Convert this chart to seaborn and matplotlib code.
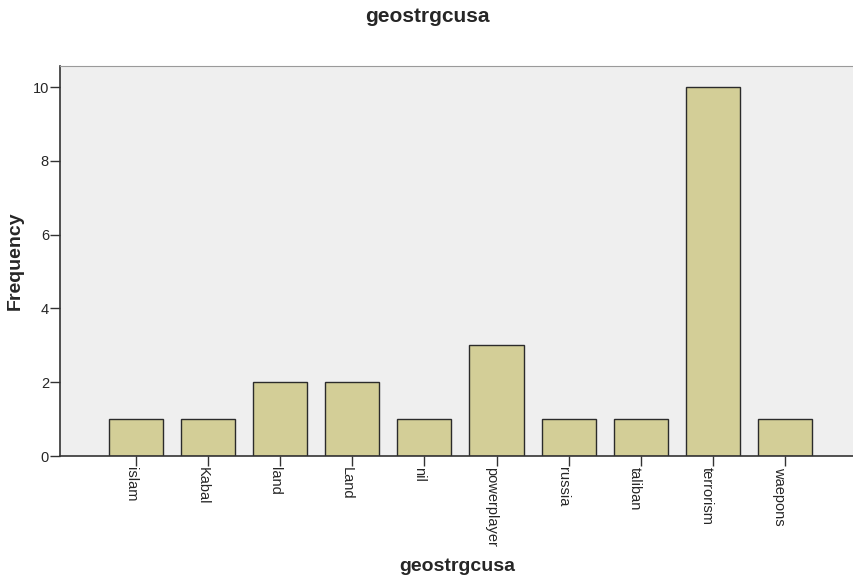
import pandas as pd
import seaborn as sns
import matplotlib.pyplot as plt

# ---------- Data ----------
categories = ["islam", "Kabal", "land", "Land", "nil", "powerplayer",
              "russia", "taliban", "terrorism", "waepons"]
frequency = [1, 1, 2, 2, 1, 3, 1, 1, 10, 1]

df = pd.DataFrame({"geostrgcusa": categories, "Frequency": frequency})

sns.set_style("white")
plt.rcParams['font.family'] = ['Arial', 'Liberation Sans', 'DejaVu Sans']

fig = plt.figure(figsize=(8.54, 5.79), dpi=100)
ax = fig.add_axes([0.0703, 0.2124, 0.9297, 0.6736])
ax.set_facecolor("#EFEFEF")

sns.barplot(data=df, x="geostrgcusa", y="Frequency", order=categories,
            color="#D3CE97", width=0.75, edgecolor="#2b2b2b", linewidth=1.0,
            saturation=1, ax=ax)

ax.set_xlim(-1.056, 9.96)
ax.set_ylim(0, 10.57)
ax.set_yticks([0, 2, 4, 6, 8, 10])

ax.spines["top"].set_color("#9a9a9a")
ax.spines["right"].set_visible(False)
ax.spines["left"].set_color("#333333")
ax.spines["bottom"].set_color("#333333")
ax.spines["left"].set_linewidth(1.2)
ax.spines["bottom"].set_linewidth(1.2)

ax.tick_params(axis="both", direction="out", length=7, width=1, color="#333333",
               labelsize=10.5, bottom=True, left=True, pad=1)
plt.setp(ax.get_xticklabels(), rotation=270, ha="center", va="top",
         rotation_mode="default")
# nudge x tick labels so their right edge sits on the tick
import matplotlib.transforms as mtransforms
offset = mtransforms.ScaledTranslation(-4 / 72, 0, fig.dpi_scale_trans)
for lbl in ax.get_xticklabels():
    lbl.set_transform(lbl.get_transform() + offset)

ax.set_xlabel("geostrgcusa", fontsize=14, fontweight="bold")
ax.xaxis.set_label_coords(0.5, -0.282)
ax.xaxis.label.set_va("center")
ax.set_ylabel("Frequency", fontsize=14, fontweight="bold")
ax.yaxis.set_label_coords(-0.0567, 0.5)
ax.yaxis.label.set_va("center")
fig.suptitle("geostrgcusa", fontsize=15, fontweight="bold", y=0.972, va="center")

fig.savefig("out.png", dpi=100)
